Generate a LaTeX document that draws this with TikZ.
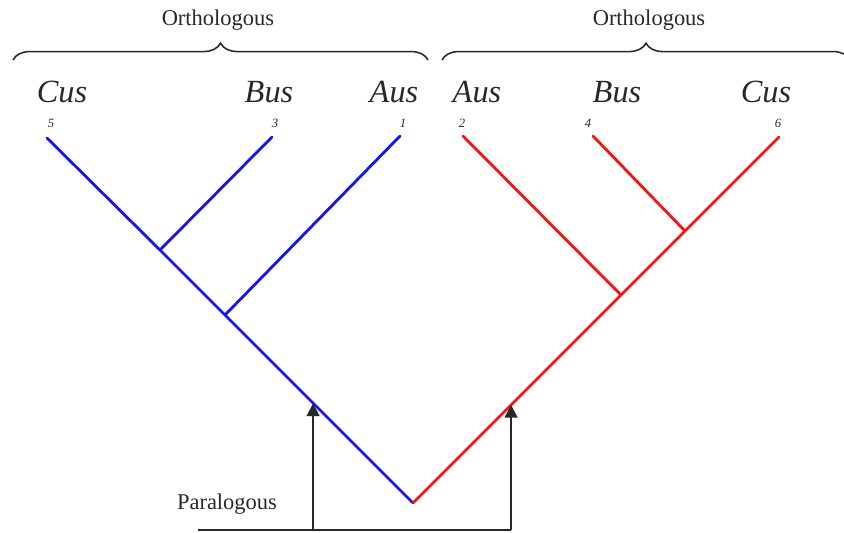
\documentclass[tikz,border=0pt]{standalone}
\usepackage{fontspec}
\setmainfont{Liberation Serif}
\usepackage{xcolor}
\definecolor{ink}{RGB}{40, 40, 40}
\definecolor{geneA}{RGB}{20, 20, 245}
\definecolor{geneB}{RGB}{245, 20, 20}
\usetikzlibrary{calc,arrows.meta,decorations.pathreplacing}

\begin{document}
\begin{tikzpicture}[x=0.025cm, y=-0.025cm,
    species/.style={font=\fontsize{23}{23}\selectfont\itshape, ink, anchor=base},
    leafno/.style={font=\fontsize{9}{9}\selectfont\itshape, ink},
    branch/.style={line width=2pt, line cap=round},
    pointer/.style={ink, line width=1.4pt, -{Triangle[length=9pt,width=9pt]}}]
                \useasboundingbox (0,0) rectangle (844,533);

                % Tips of the tree
                \coordinate (c5) at (47,138);
                \coordinate (c3) at (272,137);
                \coordinate (c1) at (400,136);
                \coordinate (c2) at (463,136);
                \coordinate (c4) at (593,136);
                \coordinate (c6) at (779,137);

                % Inner nodes
                \coordinate (bBus) at (160,250);
                \coordinate (bAus) at (225,315);
                \coordinate (rBC) at (685,231);
                \coordinate (rAus) at (621,295);
                \coordinate (root) at (413,503);

                % Blue copy
                \draw[geneA, branch] (c5) -- (bBus) -- (bAus) -- (root);
                \draw[geneA, branch] (c3) -- (bBus);
                \draw[geneA, branch] (c1) -- (bAus);

                % Red copy
                \draw[geneB, branch] (c6) -- (rBC) -- (rAus) -- (root);
                \draw[geneB, branch] (c4) -- (rBC);
                \draw[geneB, branch] (c2) -- (rAus);

                % Species labels
                \node[species] (sC1) at (62,102) {Cus};
                \node[species] (sB1) at (269,102) {Bus};
                \node[species] (sA1) at (394,102) {Aus};
                \node[species] (sA2) at (477,102) {Aus};
                \node[species] (sB2) at (617,102) {Bus};
                \node[species] (sC2) at (766,102) {Cus};

                \node[leafno] (n5) at (51,123) {5};
                \node[leafno] (n3) at (275,123) {3};
                \node[leafno] (n1) at (403,123) {1};
                \node[leafno] (n2) at (462,123) {2};
                \node[leafno] (n4) at (588,123) {4};
                \node[leafno] (n6) at (778,123) {6};

                % Braces
                \draw[ink, line width=1.1pt, decorate, decoration={brace, amplitude=12pt}]
                    (13,60) -- (428,60);
                \draw[ink, line width=1.1pt, decorate, decoration={brace, amplitude=12pt}]
                    (442,60) -- (850,60);
                \node[ink, font=\fontsize{16}{16}\selectfont] (orthoL) at (218,20) {Orthologous};
                \node[ink, font=\fontsize{16}{16}\selectfont] (orthoR) at (649,20) {Orthologous};

                % Duplication markers
                \coordinate (base) at (198,530);
                \coordinate (dupL) at ($(root)!0.273!(c5)$);
                \coordinate (dupR) at ($(root)!0.268!(c6)$);
                \draw[ink, line width=1.4pt] (base) -- (dupR |- base);
                \draw[pointer] (dupL |- base) -- (dupL);
                \draw[pointer] (dupR |- base) -- (dupR);
                \node[ink, font=\fontsize{16}{16}\selectfont] (paral) at (227,504) {Paralogous};
            \end{tikzpicture}
\end{document}
